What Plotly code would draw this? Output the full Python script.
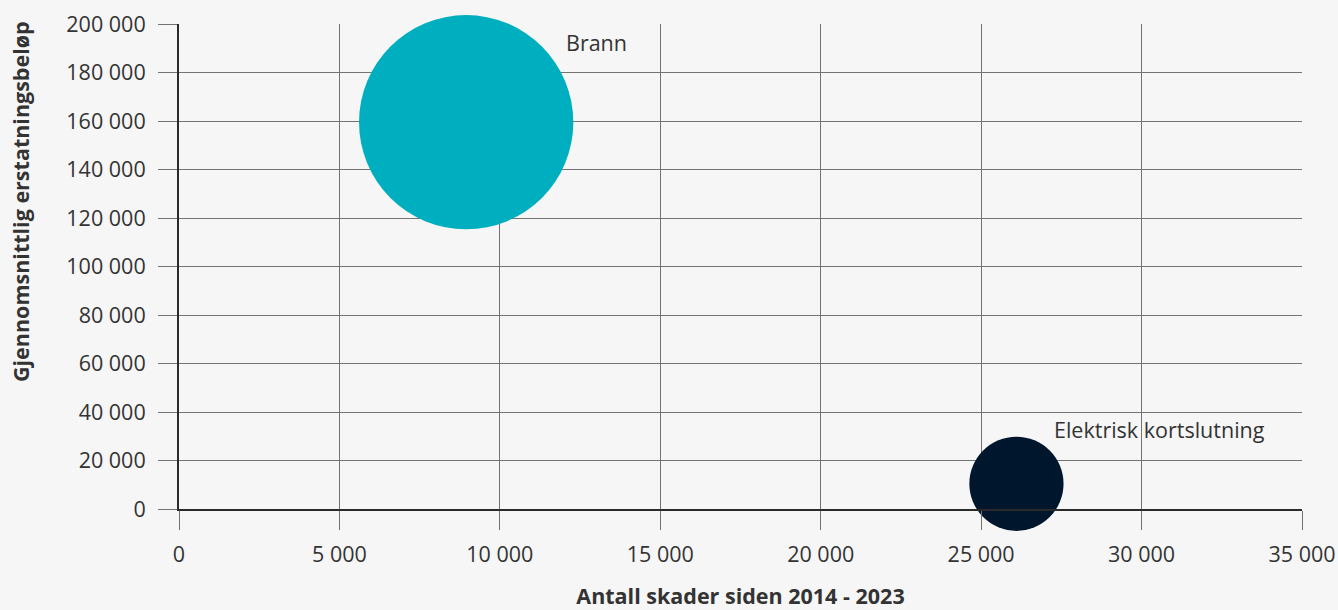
import plotly.graph_objects as go

categories = ["Brann", "Elektrisk kortslutning"]
antall_skader = [8950, 26100]
snitt_erstatning = [159500, 10400]
total_utbetalt_mnok = [1428, 276]
label_x = [12000, 27200]
label_y = [192500, 32600]
x_title = "Antall skader siden 2014 - 2023"
y_title = "Gjennomsnittlig erstatningsbeløp"

colors = ["#00afbf", "#00162d"]

fig = go.Figure()
fig.add_trace(go.Scatter(
    x=antall_skader, y=snitt_erstatning, mode="markers",
    marker=dict(size=total_utbetalt_mnok, sizemode="area", sizeref=0.0622,
                color=colors, opacity=1, line=dict(width=0)),
    cliponaxis=False, showlegend=False, hoverinfo="skip",
))
for c, lx, ly in zip(categories, label_x, label_y):
    fig.add_annotation(x=lx, y=ly, text=c, showarrow=False, xanchor="left",
                       yanchor="middle", font=dict(size=21.5, color="#333333"))

fig.add_annotation(xref="paper", yref="paper", x=-0.1416, y=0.635,
                   text=f"<b>{y_title}</b>", textangle=-90, showarrow=False,
                   xanchor="center", yanchor="middle",
                   font=dict(size=21.5, color="#333333"))

fig.update_layout(
    width=1338, height=610,
    paper_bgcolor="#f6f6f6", plot_bgcolor="#f6f6f6",
    margin=dict(l=179, r=36, t=24, b=101, autoexpand=False),
    separators=", ",
    font=dict(family="Open Sans", size=21.5, color="#333333"),
)
fig.update_xaxes(
    range=[0, 35000], dtick=5000, tickformat=",", showgrid=True,
    gridcolor="#737373", gridwidth=1, zeroline=False,
    showline=True, linecolor="#2a2a2a", linewidth=2,
    ticks="outside", ticklen=19, tickcolor="#737373", tickwidth=1,
    ticklabelstandoff=6, automargin=False,
    title=dict(text=f"<b>{x_title}</b>", font=dict(size=21.5), standoff=28),
)
fig.update_yaxes(
    range=[0, 200000], dtick=20000, tickformat=",", showgrid=True,
    gridcolor="#737373", gridwidth=1, zeroline=False,
    showline=True, linecolor="#2a2a2a", linewidth=2,
    ticks="outside", ticklen=19, tickcolor="#737373", tickwidth=1,
    ticklabelstandoff=8, automargin=False,
)
fig.write_html("out.html", config={"displayModeBar": False},
               post_script="document.body.style.margin='0px';document.body.style.background='#f6f6f6';")
